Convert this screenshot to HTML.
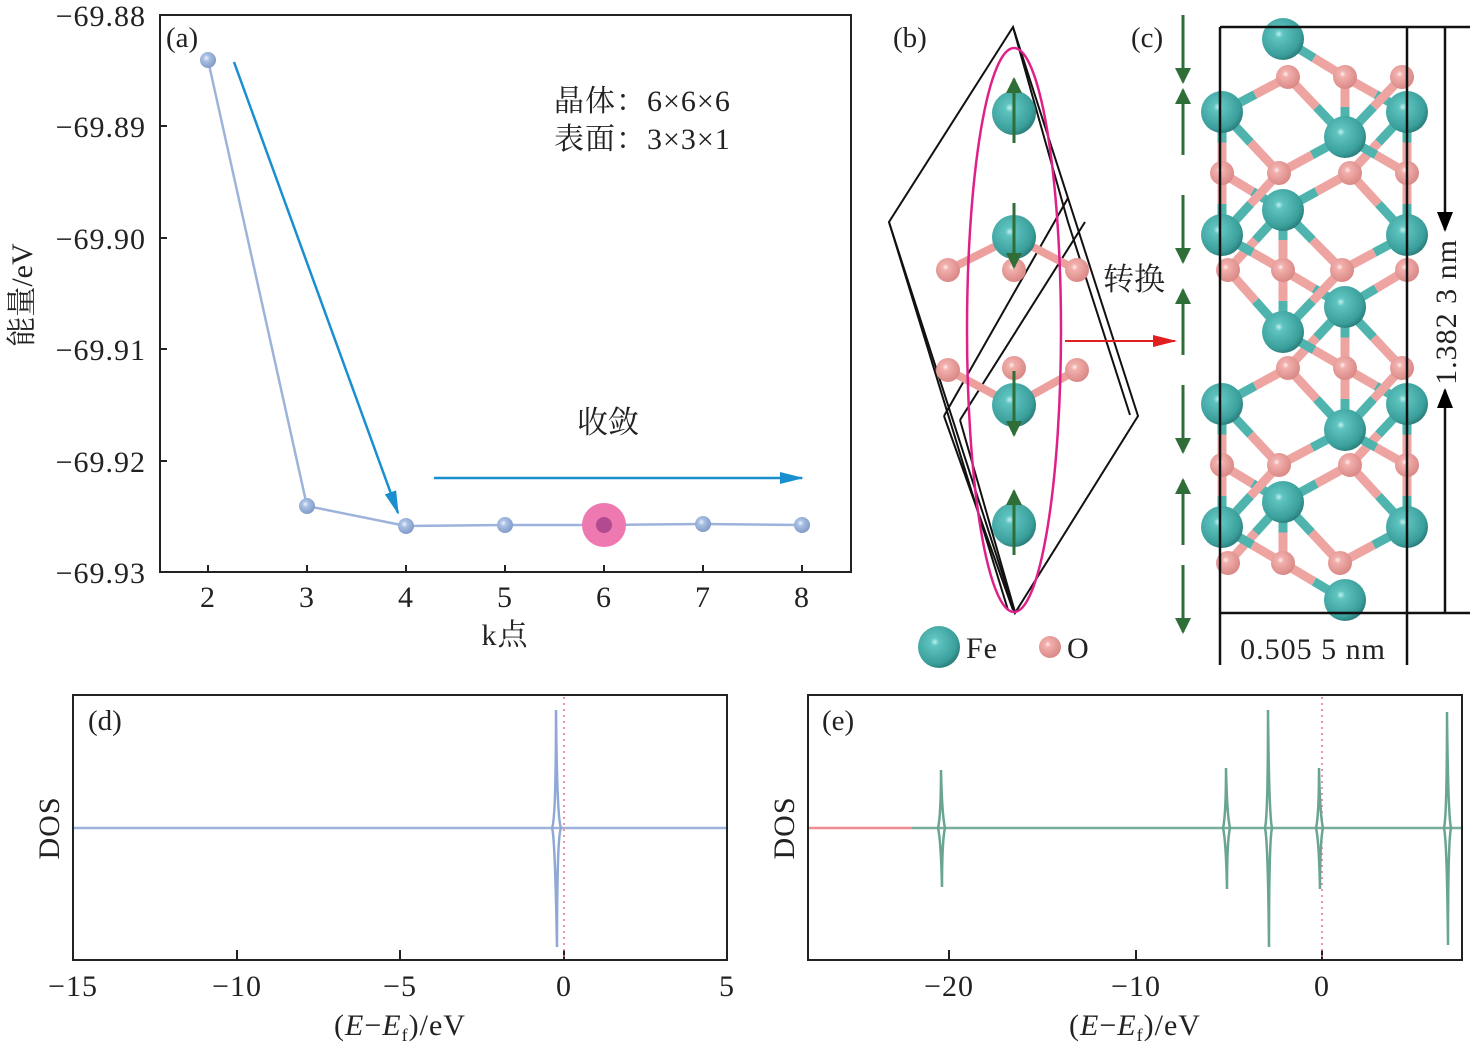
<!DOCTYPE html>
<html><head><meta charset="utf-8"><style>
html,body{margin:0;padding:0;background:#fff;}
svg{display:block;}
text{font-family:"Liberation Serif","Noto Serif CJK SC","Noto Sans CJK SC",serif;fill:#222;}
.n{font-size:30px;letter-spacing:1px;}
</style></head><body>
<svg id="s" width="1475" height="1046" viewBox="0 0 1475 1046" xmlns="http://www.w3.org/2000/svg">
<defs>
<radialGradient id="fe" cx="0.4" cy="0.38" r="0.65">
<stop offset="0" stop-color="#bff0ee"/><stop offset="0.15" stop-color="#5fc4c0"/><stop offset="0.8" stop-color="#3a9e9a"/><stop offset="1" stop-color="#2a7c79"/></radialGradient>
<radialGradient id="ox" cx="0.4" cy="0.38" r="0.65">
<stop offset="0" stop-color="#fff0f0"/><stop offset="0.2" stop-color="#f2b0ad"/><stop offset="1" stop-color="#d88784"/></radialGradient>
<radialGradient id="pt" cx="0.4" cy="0.38" r="0.65">
<stop offset="0" stop-color="#eef3ff"/><stop offset="0.3" stop-color="#a9bfe3"/><stop offset="1" stop-color="#7f99c7"/></radialGradient>
<marker id="ab2" markerWidth="24" markerHeight="12" refX="22" refY="6" orient="auto" markerUnits="userSpaceOnUse"><path d="M0,0 L24,6 L0,12 z" fill="#1a8fd0"/></marker>
<marker id="ar" markerWidth="24" markerHeight="12" refX="22" refY="6" orient="auto" markerUnits="userSpaceOnUse"><path d="M0,0 L24,6 L0,12 z" fill="#e02020"/></marker>
<marker id="ak" markerWidth="20" markerHeight="16" refX="18" refY="8" orient="auto" markerUnits="userSpaceOnUse"><path d="M0,0 L20,8 L0,16 z" fill="#000"/></marker>
<marker id="ag" markerWidth="16" markerHeight="16" refX="14" refY="8" orient="auto" markerUnits="userSpaceOnUse"><path d="M0,0 L16,8 L0,16 z" fill="#2f6e37"/></marker>
</defs>

<!-- Panel a -->
<rect x="160" y="15" width="691" height="557" fill="none" stroke="#222" stroke-width="2"/>
<g stroke="#222" stroke-width="2">
<line x1="208" y1="572" x2="208" y2="565"/><line x1="307" y1="572" x2="307" y2="565"/><line x1="406" y1="572" x2="406" y2="565"/><line x1="505" y1="572" x2="505" y2="565"/><line x1="604" y1="572" x2="604" y2="565"/><line x1="703" y1="572" x2="703" y2="565"/><line x1="802" y1="572" x2="802" y2="565"/>
<line x1="160" y1="126" x2="167" y2="126"/><line x1="160" y1="238" x2="167" y2="238"/><line x1="160" y1="349" x2="167" y2="349"/><line x1="160" y1="461" x2="167" y2="461"/>
</g>
<g class="n" text-anchor="end">
<text x="146" y="26">−69.88</text><text x="146" y="137">−69.89</text><text x="146" y="249">−69.90</text><text x="146" y="360">−69.91</text><text x="146" y="472">−69.92</text><text x="146" y="583">−69.93</text>
</g>
<g class="n" text-anchor="middle">
<text x="208" y="607">2</text><text x="307" y="607">3</text><text x="406" y="607">4</text><text x="505" y="607">5</text><text x="604" y="607">6</text><text x="703" y="607">7</text><text x="802" y="607">8</text>
<text x="505" y="645">k点</text>
</g>
<text transform="translate(32,295) rotate(-90)" font-size="30" text-anchor="middle">能量/eV</text>
<text x="166" y="47" font-size="29">(a)</text>
<text x="554" y="111" font-size="30" letter-spacing="1">晶体：6×6×6</text>
<text x="554" y="149" font-size="30" letter-spacing="1">表面：3×3×1</text>
<text x="608" y="433" font-size="31" text-anchor="middle">收敛</text>
<polyline points="208,60 307,506 406,526 505,525 604,525 703,524 802,525" fill="none" stroke="#9db3db" stroke-width="2.5"/>
<line x1="234" y1="62" x2="398" y2="513" stroke="#1a8fd0" stroke-width="2.5" marker-end="url(#ab2)"/>
<line x1="434" y1="478" x2="802" y2="478" stroke="#1a8fd0" stroke-width="2.5" marker-end="url(#ab2)"/>
<circle cx="604" cy="525" r="22" fill="#ee78b0"/>
<g fill="url(#pt)"><circle cx="208" cy="60" r="8"/><circle cx="307" cy="506" r="8"/><circle cx="406" cy="526" r="8"/><circle cx="505" cy="525" r="8"/><circle cx="703" cy="524" r="8"/><circle cx="802" cy="525" r="8"/></g>
<circle cx="604" cy="525" r="8" fill="#b14a8f"/>

<!-- Panel b -->
<text x="893" y="47" font-size="29">(b)</text>
<g fill="none" stroke="#111" stroke-width="2">
<polygon points="1013,27 889,222 1015,613 1138,416"/>
<polyline points="1013,27 1068,222 1130,415"/>
<polyline points="889,222 1008,610"/>
<line x1="1068" y1="198" x2="944" y2="416"/>
<line x1="1085" y1="222" x2="960" y2="420"/>
<line x1="944" y1="416" x2="1013" y2="610"/>
<line x1="960" y1="420" x2="1015" y2="612"/>
</g>
<g stroke-width="8">
<line x1="1014" y1="237" x2="948" y2="270" stroke="#ec9f9c"/><line x1="1014" y1="237" x2="1077" y2="270" stroke="#ec9f9c"/>
<line x1="1014" y1="405" x2="948" y2="370" stroke="#ec9f9c"/><line x1="1014" y1="405" x2="1077" y2="370" stroke="#ec9f9c"/>
</g>
<g id="batoms"></g>
<ellipse cx="1014" cy="330" rx="47" ry="282" fill="none" stroke="#e0208a" stroke-width="2.5"/>
<line x1="1065" y1="341" x2="1175" y2="341" stroke="#e02020" stroke-width="2" marker-end="url(#ar)"/>
<text x="1103" y="290" font-size="31">转换</text>
<circle cx="939" cy="647" r="21" fill="url(#fe)"/>
<text x="966" y="658" class="n">Fe</text>
<circle cx="1050" cy="647" r="11" fill="url(#ox)"/>
<text x="1067" y="658" class="n">O</text>

<!-- Panel c -->
<text x="1131" y="47" font-size="29">(c)</text>
<g id="gar" stroke="#2f6e37" stroke-width="3"></g>
<g id="bonds"></g>
<g id="catoms"></g>
<g stroke="#111" stroke-width="2.5" fill="none">
<line x1="1220" y1="27" x2="1220" y2="665"/>
<line x1="1407" y1="27" x2="1407" y2="665"/>
<line x1="1220" y1="27" x2="1470" y2="27"/>
<line x1="1220" y1="613" x2="1470" y2="613"/>
<line x1="1445" y1="28" x2="1445" y2="230" marker-end="url(#ak)"/>
<line x1="1445" y1="612" x2="1445" y2="390" marker-end="url(#ak)"/>
</g>
<text transform="translate(1456,312) rotate(-90)" class="n" text-anchor="middle">1.382 3 nm</text>
<text x="1313" y="659" class="n" letter-spacing="1.5" text-anchor="middle">0.505 5 nm</text>

<!-- Panel d -->
<rect x="73" y="695" width="654" height="265" fill="none" stroke="#222" stroke-width="2"/>
<g stroke="#222" stroke-width="2">
<line x1="237" y1="960" x2="237" y2="950"/><line x1="400" y1="960" x2="400" y2="950"/><line x1="564" y1="960" x2="564" y2="950"/>
</g>
<line x1="564" y1="697" x2="564" y2="958" stroke="#f07080" stroke-width="1.5" stroke-dasharray="2,4"/>
<line x1="74" y1="828" x2="726" y2="828" stroke="#9db3db" stroke-width="2.5"/>
<path d="M552,828 Q556,820 556,710 Q557,820 561,828 Q557,836 557,947 Q555,836 552,828" fill="none" stroke="#8fa8d6" stroke-width="2.5"/>
<text x="88" y="730" font-size="29">(d)</text>
<text transform="translate(59,828) rotate(-90)" class="n" text-anchor="middle">DOS</text>
<g class="n" text-anchor="middle">
<text x="73" y="996">−15</text><text x="237" y="996">−10</text><text x="400" y="996">−5</text><text x="564" y="996">0</text><text x="727" y="996">5</text>
<text x="400" y="1035">(<tspan font-style="italic">E</tspan>−<tspan font-style="italic">E</tspan><tspan font-size="18" dy="6">f</tspan><tspan dy="-6">)/eV</tspan></text>
</g>

<!-- Panel e -->
<rect x="808" y="695" width="654" height="265" fill="none" stroke="#222" stroke-width="2"/>
<g stroke="#222" stroke-width="2">
<line x1="949" y1="960" x2="949" y2="950"/><line x1="1136" y1="960" x2="1136" y2="950"/><line x1="1322" y1="960" x2="1322" y2="950"/>
</g>
<line x1="1322" y1="697" x2="1322" y2="958" stroke="#f07080" stroke-width="1.5" stroke-dasharray="2,4"/>
<line x1="809" y1="828" x2="912" y2="828" stroke="#ef8a90" stroke-width="2.5"/>
<line x1="912" y1="828" x2="1461" y2="828" stroke="#79ad9b" stroke-width="2.5"/>
<g id="espk" fill="none" stroke="#6aa592" stroke-width="2.5"></g>
<text x="822" y="730" font-size="29">(e)</text>
<text transform="translate(794,828) rotate(-90)" class="n" text-anchor="middle">DOS</text>
<g class="n" text-anchor="middle">
<text x="949" y="996">−20</text><text x="1136" y="996">−10</text><text x="1322" y="996">0</text>
<text x="1135" y="1035">(<tspan font-style="italic">E</tspan>−<tspan font-style="italic">E</tspan><tspan font-size="18" dy="6">f</tspan><tspan dy="-6">)/eV</tspan></text>
</g>
</svg>
<script>
var NS="http://www.w3.org/2000/svg";
function el(p,t,a){var e=document.createElementNS(NS,t);for(var k in a)e.setAttribute(k,a[k]);p.appendChild(e);return e;}
var sp=document.getElementById('espk');
[[941,770,887],[1226,768,889],[1268,710,947],[1319,768,889],[1447,712,945]].forEach(function(s){
var x=s[0];el(sp,'path',{d:'M'+(x-3)+',828 Q'+x+',815 '+x+','+s[1]+' Q'+(x+1)+',815 '+(x+4)+',828 Q'+(x+1)+',841 '+(x+1)+','+s[2]+' Q'+(x)+',841 '+(x-3)+',828'});});
var ba=document.getElementById('batoms');
[[948,270],[1014,270],[1077,270],[948,370],[1014,368],[1077,370]].forEach(function(p){el(ba,'circle',{cx:p[0],cy:p[1],r:12,fill:'url(#ox)'});});
[113,237,405,525].forEach(function(y){el(ba,'circle',{cx:1014,cy:y,r:22,fill:'url(#fe)'});});
[[113,1],[237,-1],[405,-1],[525,1]].forEach(function(a){var y=a[0],d=a[1];
if(d>0)el(ba,'line',{x1:1014,y1:y+30,x2:1014,y2:y-34,stroke:'#2f6e37','stroke-width':3,'marker-end':'url(#ag)'});
else el(ba,'line',{x1:1014,y1:y-34,x2:1014,y2:y+30,stroke:'#2f6e37','stroke-width':3,'marker-end':'url(#ag)'});});
var ga=document.getElementById('gar');
[[15,82,1],[90,155,0],[195,262,1],[290,355,0],[385,452,1],[480,545,0],[565,632,1]].forEach(function(a){
if(a[2])el(ga,'line',{x1:1183,y1:a[0],x2:1183,y2:a[1],'marker-end':'url(#ag)'});
else el(ga,'line',{x1:1183,y1:a[1],x2:1183,y2:a[0],'marker-end':'url(#ag)'});});
var fe=[[1283,39],[1222,112],[1407,112],[1345,137],[1283,210],[1222,235],[1407,235],[1345,307],[1283,332],[1222,404],[1407,404],[1345,430],[1283,502],[1222,527],[1407,527],[1345,600]];
var ox=[[1288,77],[1345,77],[1402,77],[1222,173],[1279,173],[1350,173],[1407,173],[1228,270],[1283,270],[1342,270],[1407,270],[1288,368],[1345,368],[1402,368],[1222,465],[1279,465],[1350,465],[1407,465],[1228,563],[1283,563],[1340,563]];
var bg=document.getElementById('bonds');
fe.forEach(function(f){ox.forEach(function(o){var dx=o[0]-f[0],dy=o[1]-f[1],d=Math.sqrt(dx*dx+dy*dy);
if(d>45&&d<100){var mx=(f[0]+o[0])/2,my=(f[1]+o[1])/2;
el(bg,'line',{x1:f[0],y1:f[1],x2:mx,y2:my,stroke:'#4fb3ae','stroke-width':9});
el(bg,'line',{x1:mx,y1:my,x2:o[0],y2:o[1],stroke:'#eea5a2','stroke-width':9});}});});
var ca=document.getElementById('catoms');
ox.forEach(function(o){el(ca,'circle',{cx:o[0],cy:o[1],r:12,fill:'url(#ox)'});});
fe.forEach(function(f){el(ca,'circle',{cx:f[0],cy:f[1],r:21,fill:'url(#fe)'});});
</script>
</body></html>
